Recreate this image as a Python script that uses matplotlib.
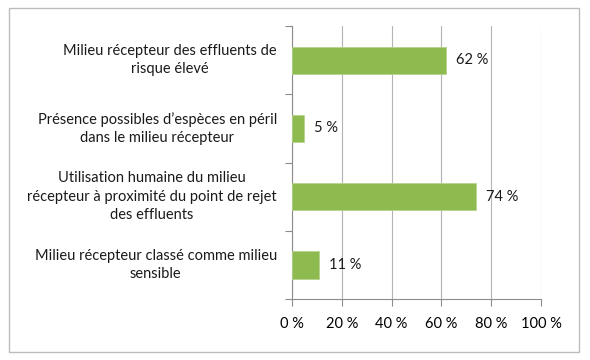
import matplotlib
matplotlib.use('Agg')
import matplotlib.pyplot as plt
from matplotlib.patches import Rectangle

categories = [
    'Milieu récepteur des effluents de\nrisque élevé',
    'Présence possibles d\u2019espèces en péril\ndans le milieu récepteur',
    'Utilisation humaine du milieu\nrécepteur à proximité du point de rejet\ndes effluents',
    'Milieu récepteur classé comme milieu\nsensible',
]
values = [62, 5, 74, 11]
xticks = [0, 20, 40, 60, 80, 100]

plt.rcParams['font.family'] = ['Lato', 'DejaVu Sans']

fig = plt.figure(figsize=(5.9, 3.6), dpi=100)
ax = fig.add_axes([0.4949, 0.1694, 0.4220, 0.7583])

bar_color = '#8DBB50'
grid_color = '#B4B4B4'
axis_color = '#8C8C8C'

pos = list(range(len(categories)))
ax.barh(pos, values, height=0.4, color=bar_color, edgecolor='#B5D38C', linewidth=0.6, zorder=3)

for p, v in zip(pos, values):
    ax.text(v + 4, p, f'{v} %', va='center', ha='left', fontsize=10.5, color='#1a1a1a')

ax.set_xlim(0, 100)
ax.set_ylim(len(categories) - 0.5, -0.5)
ax.set_xticks(xticks)
ax.set_xticklabels([f'{t} %' for t in xticks], fontsize=10.5)
ax.set_yticks(pos)
ax.set_yticklabels([])
# category labels, centred line by line
for p, lab in zip(pos, categories):
    ax.annotate(lab, xy=(0, p), xycoords=('axes fraction', 'data'),
                xytext=(-15, 0), textcoords='offset pixels',
                ha='right', va='center', multialignment='center',
                fontsize=10.5, color='#1a1a1a', linespacing=1.38)
ax.set_yticks([i - 0.5 for i in range(len(categories) + 1)], minor=True)

ax.tick_params(axis='y', which='major', length=0)
ax.tick_params(axis='y', which='minor', length=5, color=axis_color, width=0.8)
ax.tick_params(axis='x', length=5, color=axis_color, width=0.8, pad=8)

ax.grid(True, axis='x', color=grid_color, linewidth=0.8, zorder=0)
for side in ['top', 'right']:
    ax.spines[side].set_visible(False)
for side in ['left', 'bottom']:
    ax.spines[side].set_color(axis_color)
    ax.spines[side].set_linewidth(0.8)

# chart frame
fig.patches.append(Rectangle((9 / 590, 8 / 360), 570 / 590, 344 / 360,
                             transform=fig.transFigure, fill=False,
                             edgecolor='#BDBDBD', linewidth=1.0))

fig.savefig('out.png', dpi=100)
